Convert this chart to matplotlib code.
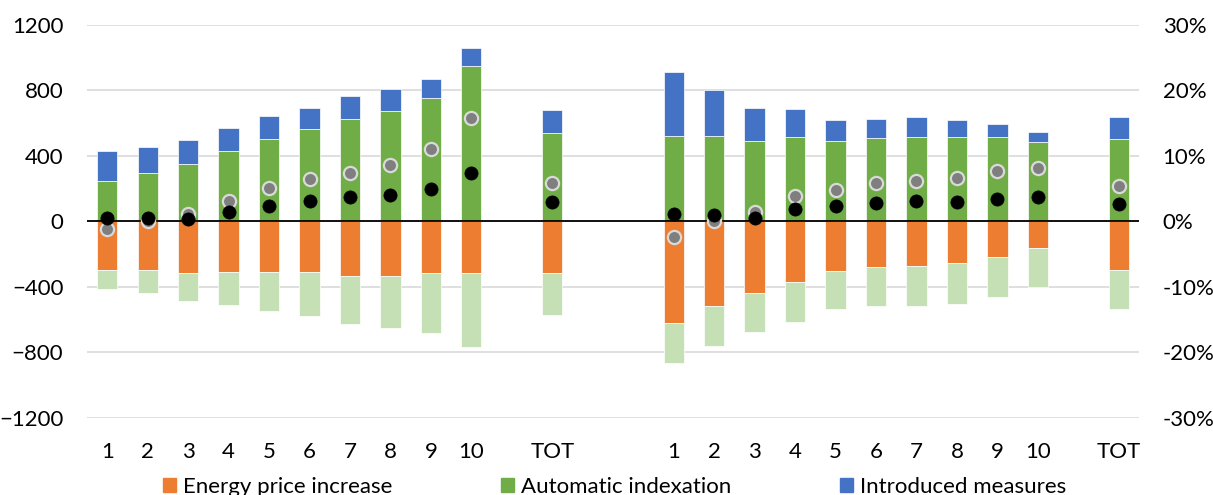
import numpy as np
import matplotlib.pyplot as plt
from matplotlib.patches import Patch

plt.rcParams['font.family'] = ['Lato', 'DejaVu Sans']

# category labels for one block of deciles plus the total
group_labels = [str(i) for i in range(1, 11)] + ['', 'TOT']
tick_labels = group_labels + ['', ''] + group_labels

# left block
energy_a = [-294, -298, -316, -306, -308, -306, -331, -335, -316, -316, -312]
other_neg_a = [-118, -139, -168, -204, -241, -272, -298, -318, -362, -449, -257]
indexation_a = [247, 298, 353, 429, 506, 567, 624, 676, 755, 947, 543]
measures_a = [184, 159, 147, 140, 137, 129, 145, 136, 116, 110, 137]
grey_a = [-1.1, 0.05, 1.1, 3.2, 5.05, 6.5, 7.4, 8.6, 11.0, 15.8, 5.8]
black_a = [0.55, 0.55, 0.45, 1.5, 2.4, 3.2, 3.7, 4.0, 4.95, 7.4, 2.9]

# right block
energy_b = [-622, -514, -439, -367, -300, -276, -273, -255, -214, -163, -294]
other_neg_b = [-245, -249, -234, -247, -233, -242, -245, -247, -247, -235, -241]
indexation_b = [524, 520, 494, 518, 490, 510, 518, 518, 516, 488, 506]
measures_b = [392, 280, 202, 170, 132, 114, 119, 102, 78, 57, 133]
grey_b = [-2.35, 0.1, 1.4, 3.9, 4.85, 5.9, 6.2, 6.6, 7.65, 8.2, 5.45]
black_b = [1.2, 1.0, 0.6, 1.9, 2.35, 2.75, 3.1, 3.05, 3.45, 3.8, 2.7]

ORANGE = '#ED7D31'
GREEN = '#70AD47'
BLUE = '#4472C4'
LIGHT_GREEN = '#C5E0B4'

offset_b = len(group_labels) + 2
x_a = np.array([i for i, l in enumerate(group_labels) if l])
x_b = x_a + offset_b

fig = plt.figure(figsize=(12.13, 4.95), dpi=100)
ax = fig.add_axes([0.0717, 0.1556, 0.8673, 0.7939])
ax2 = ax.twinx()

w = 0.5
bar_kw = dict(width=w, edgecolor='white', linewidth=0.5, zorder=2)
for x, en, on, ind, ms in [(x_a, energy_a, other_neg_a, indexation_a, measures_a),
                           (x_b, energy_b, other_neg_b, indexation_b, measures_b)]:
    ax.bar(x, en, color=ORANGE, **bar_kw)
    ax.bar(x, on, bottom=en, color=LIGHT_GREEN, **bar_kw)
    ax.bar(x, ind, color=GREEN, **bar_kw)
    ax.bar(x, ms, bottom=ind, color=BLUE, **bar_kw)

ax.axhline(0, color='black', lw=1.3, zorder=3)

for x, g, b in [(x_a, grey_a, black_a), (x_b, grey_b, black_b)]:
    ax2.plot(x, g, 'o', ms=9.5, mfc='#7F7F7F', mec='#D9D9D9', mew=1.6, zorder=4)
    ax2.plot(x, b, 'o', ms=9.5, mfc='black', mec='black', mew=0.5, zorder=5)

ax.set_xlim(-0.5, len(tick_labels) - 0.5)
ax.set_ylim(-1200, 1200)
ax.set_yticks(np.arange(-1200, 1201, 400))
ax2.set_ylim(-30, 30)
ax2.set_yticks(np.arange(-30, 31, 10))
ax2.set_yticklabels([f'{v}%' for v in range(-30, 31, 10)])

ax.set_xticks(range(len(tick_labels)))
ax.set_xticklabels(tick_labels)

ax.grid(axis='y', color='#D9D9D9', lw=1.2, zorder=0)
ax.set_axisbelow(True)
for a in (ax, ax2):
    for s in a.spines.values():
        s.set_visible(False)
    a.tick_params(length=0, labelsize=16, colors='black')
ax.tick_params(axis='y', pad=17)
ax2.tick_params(axis='y', pad=17)
ax.tick_params(axis='x', pad=17)

handles = [Patch(color=ORANGE), Patch(color=GREEN), Patch(color=BLUE)]
names = ['Energy price increase', 'Automatic indexation', 'Introduced measures']
fig.legend(handles, names, loc='center', bbox_to_anchor=(0.5066, 0.016), ncol=3,
           frameon=False, fontsize=16, handlelength=0.6, handleheight=0.6,
           handletextpad=0.3, columnspacing=4.9)

fig.savefig('out.png', dpi=100)
